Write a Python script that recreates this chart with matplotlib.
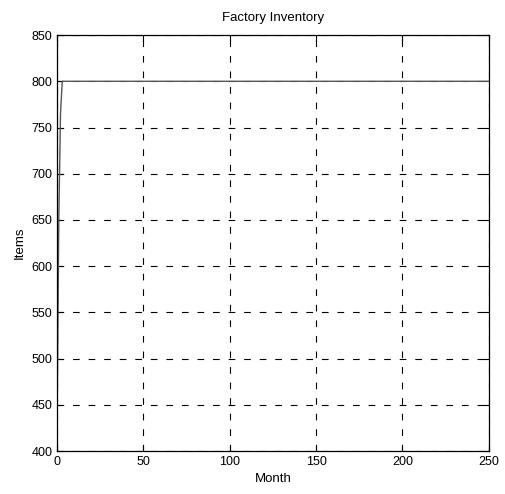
import matplotlib.pyplot as plt

# inventory level by month: fast climb, then flat at capacity
months = [0, 1, 2, 3, 250]
items = [430, 650, 765, 800, 800]

x_ticks = [0, 50, 100, 150, 200, 250]
y_ticks = [400, 450, 500, 550, 600, 650, 700, 750, 800, 850]

plt.rcParams['font.family'] = ['Liberation Sans', 'DejaVu Sans']

fig = plt.figure(figsize=(5.05, 4.94), dpi=100)
ax = fig.add_axes([0.113, 0.087, 0.855, 0.842])

ax.plot(months, items, color='#555555', linewidth=1.0)

ax.set_xlim(0, 250)
ax.set_ylim(400, 850)
ax.set_xticks(x_ticks)
ax.set_yticks(y_ticks)
ax.tick_params(direction='in', length=4, labelsize=9, top=True, right=True,
               labeltop=False, labelright=False)
ax.grid(True, color='black', linestyle=(0, (6, 8)), linewidth=0.8)

ax.set_title('Factory Inventory', fontsize=9.5, pad=10)
ax.set_xlabel('Month', fontsize=9.5, labelpad=4)
ax.set_ylabel('Items', fontsize=9.5, labelpad=4)

for s in ax.spines.values():
    s.set_linewidth(0.9)

fig.savefig('out.png', dpi=100)
